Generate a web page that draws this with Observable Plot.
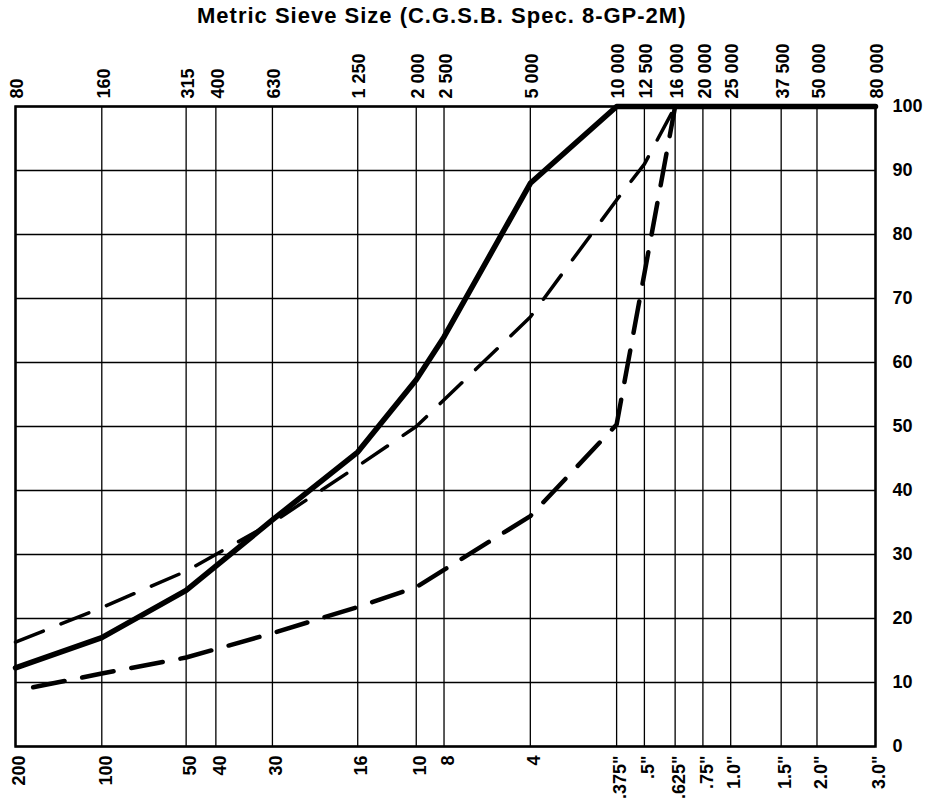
<!DOCTYPE html>
<html><head><meta charset="utf-8">
<script src="https://cdn.jsdelivr.net/npm/d3@7"></script>
<script src="https://cdn.jsdelivr.net/npm/@observablehq/plot@0.6"></script>
<style>
body{margin:0;background:#fff;width:933px;height:800px;overflow:hidden;font-family:"Liberation Sans",Arial,sans-serif;}
#title{height:36px;position:relative;}
#title span{position:absolute;left:197px;top:3px;font-size:22px;font-weight:bold;letter-spacing:1px;white-space:nowrap;color:#000;}
</style></head><body>
<div id="title"><span>Metric Sieve Size (C.G.S.B. Spec. 8-GP-2M)</span></div>
<div id="chart"></div>
<script>
// Sieve positions (micrometres, metric series) and their labels
const metricSizes = [80,160,315,400,630,1250,2000,2500,5000,10000,12500,16000,20000,25000,37500,50000,80000];
const metricLabels = ["80","160","315","400","630","1 250","2 000","2 500","5 000","10 000","12 500","16 000","20 000","25 000","37 500","50 000","80 000"];
const usLabels = ["200","100","50","40","30","16","10","8","4",".375\"",".5\"",".625\"",".75\"","1.0\"","1.5\"","2.0\"","3.0\""];
const percentTicks = [0,10,20,30,40,50,60,70,80,90,100];

// Solid curve
const solidSize = [80,160,315,630,1250,2000,2500,5000,10000,80000];
const solidPct  = [12.3,17,24.4,35.4,46,57.3,64,88,100,100];
// Upper (fine) dashed curve
const upperSize = [80,160,315,630,1250,2000,5000,10000,12500,16000];
const upperPct  = [16.3,21.7,27.4,35,43.8,50,67.1,85.4,91,100];
// Lower (coarse) dashed curve
const lowerSize = [80,160,315,630,1250,2000,5000,10000,16000];
const lowerPct  = [8.7,11.4,13.9,17.7,21.8,24.9,36,50.3,100];

const toRows = (xs, ys) => xs.map((x, i) => ({size: x, pct: ys[i]}));
const solid = toRows(solidSize, solidPct);
const upper = toRows(upperSize, upperPct);
const lower = toRows(lowerSize, lowerPct);

const chart = Plot.plot({
  width: 933,
  height: 764,
  marginTop: 70,
  marginBottom: 54,
  marginLeft: 15,
  marginRight: 58,
  style: {fontFamily: "'Liberation Sans', Arial, sans-serif", fontSize: "18px", fontWeight: "bold", color: "#000", background: "#fff"},
  x: {type: "log", domain: [80, 80000], label: null, axis: null},
  y: {domain: [0, 100], label: null},
  marks: [
    Plot.gridX(metricSizes, {stroke: "#000", strokeOpacity: 1, strokeWidth: 1.3}),
    Plot.gridY(percentTicks, {stroke: "#000", strokeOpacity: 1, strokeWidth: 1.3}),
    Plot.frame({stroke: "#000", strokeWidth: 2.5}),
    Plot.text(metricSizes, {x: d => d, text: (d, i) => metricLabels[i], frameAnchor: "top", rotate: -90, textAnchor: "start", lineAnchor: "middle", dy: -8, dx: 2}),
    Plot.text(metricSizes, {x: d => d, text: (d, i) => usLabels[i], frameAnchor: "bottom", rotate: -90, textAnchor: "end", lineAnchor: "middle", dy: 9, dx: 4}),
    Plot.axisY(percentTicks, {anchor: "right", tickSize: 0, tickPadding: 17, label: null}),
    Plot.line(lower, {x: "size", y: "pct", stroke: "#000", strokeWidth: 4.5, strokeDasharray: "32,18", strokeDashoffset: 32}),
    Plot.line(upper, {x: "size", y: "pct", stroke: "#000", strokeWidth: 3.5, strokeDasharray: "30,19"}),
    Plot.line(solid, {x: "size", y: "pct", stroke: "#000", strokeWidth: 5.5})
  ]
});
document.getElementById("chart").appendChild(chart);
</script>
</body></html>
